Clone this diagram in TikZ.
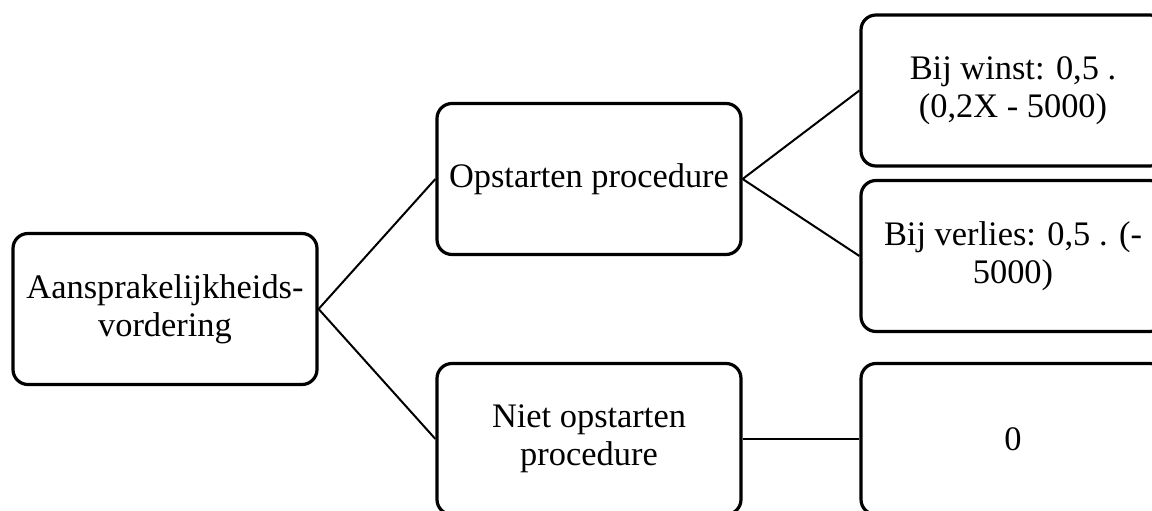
\documentclass[tikz,border=0pt]{standalone}
\usepackage{fontspec}
\setmainfont{Liberation Serif}
\begin{document}
\begin{tikzpicture}[x=1pt,y=-1pt,
  treebox/.style={draw=black, line width=3.2pt, rounded corners=15pt, rectangle,
    minimum width=304pt, minimum height=151pt, inner sep=0pt, align=center,
    font=\fontsize{34.4pt}{38pt}\selectfont},
  link/.style={draw=black, line width=2pt}]
\useasboundingbox (0,0) rectangle (1152,511);
\clip (0,0) rectangle (1152,511);
\node[treebox] (root) at (165,309) {Aansprakelijkheids-\\vordering};
\node[treebox] (op) at (589,179) {Opstarten procedure};
\node[treebox] (niet) at (589,439) {Niet opstarten\\procedure};
\node[treebox] (win) at (1013,90.5) {Bij winst: 0,5 .\\(0,2X - 5000)};
\node[treebox] (ver) at (1013,256) {Bij verlies: 0,5 . (-\\5000)};
\node[treebox] (zero) at (1013,439) {0};
\draw[link] (root.east) -- (op.west);
\draw[link] (root.east) -- (niet.west);
\draw[link] (op.east) -- (win.west);
\draw[link] (op.east) -- (ver.west);
\draw[link] (niet.east) -- (zero.west);
\end{tikzpicture}
\end{document}
